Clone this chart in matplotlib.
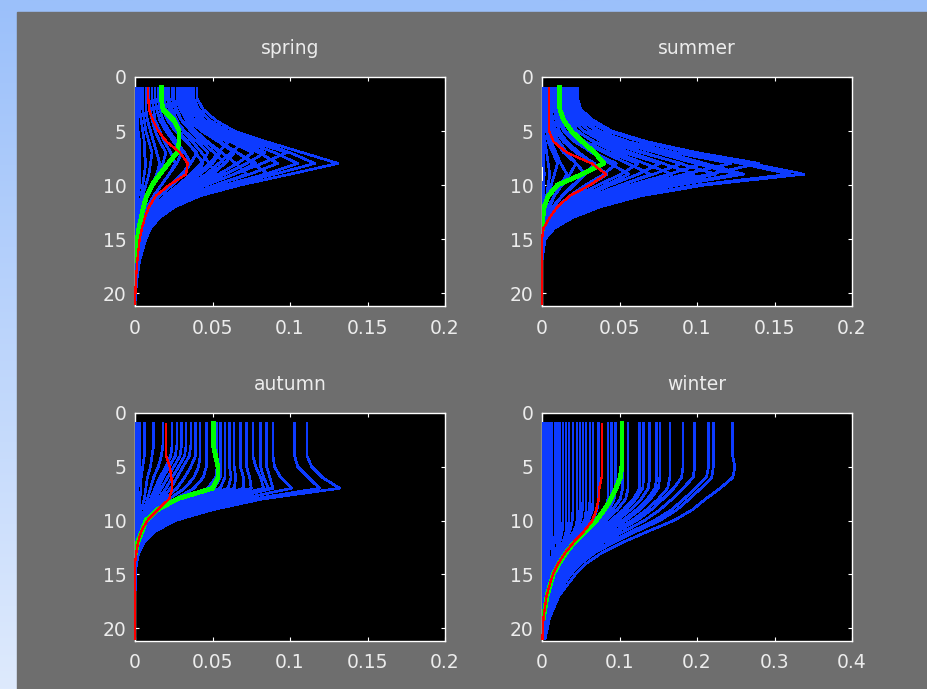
import numpy as np
import matplotlib
matplotlib.use('Agg')
import matplotlib.pyplot as plt
from matplotlib.patches import Rectangle

nan = float('nan')

# ---------------- data (profile values in units of 1e-3) ----------------
depth = [1, 2, 3, 4, 5, 6, 7, 8, 9, 10, 11, 12, 13, 14, 15, 17, 19, 21]

titles = ['spring', 'summer', 'autumn', 'winter']
yticks = [0, 5, 10, 15, 20]
xticks_std = [0, 0.05, 0.1, 0.15, 0.2]
xticklabels_std = ['0', '0.05', '0.1', '0.15', '0.2']
xticks_winter = [0, 0.1, 0.2, 0.3, 0.4]
xticklabels_winter = ['0', '0.1', '0.2', '0.3', '0.4']

spring_profiles = [
    [40, 40, 44, 52, 64, 85, 108, 131, 100, 68, 42, 26, 16, 10, 7, 3, 1, 0],
    [38, 38, 41, 48, 60, 80, 100, 116, 90, 62, 39, 24, 15, 10, 6, 3, 1, 0],
    [37, 37, 39, 45, 56, 72, 90, 105, 84, 58, 37, 23, 14, 9, 6, 3, 1, 0],
    [36, 36, 38, 44, 56, 76, 98, 82, 64, 45, 30, 19, 12, 8, 5, 2, 1, 0],
    [35, 35, 37, 42, 52, 66, 80, 92, 74, 52, 34, 21, 13, 8, 5, 2, 1, 0],
    [34, 34, 36, 41, 52, 68, 84, 72, 58, 42, 28, 18, 11, 7, 5, 2, 1, 0],
    [33, 33, 35, 38, 45, 55, 66, 76, 86, 60, 37, 22, 13, 8, 5, 2, 1, 0],
    [32, 32, 34, 38, 48, 62, 76, 66, 54, 40, 27, 17, 11, 7, 4, 2, 1, 0],
    [31, 31, 33, 38, 50, 70, 62, 54, 46, 35, 24, 15, 10, 6, 4, 2, 1, 0],
    [30, 30, 32, 36, 43, 54, 66, 78, 64, 46, 30, 19, 12, 7, 4, 2, 1, 0],
    [29, 29, 31, 35, 43, 54, 64, 58, 48, 36, 24, 15, 10, 6, 4, 2, 1, 0],
    [28, 28, 30, 33, 39, 47, 56, 65, 72, 52, 33, 20, 12, 7, 4, 2, 1, 0],
    [27, 27, 29, 34, 44, 60, 54, 48, 40, 31, 21, 14, 9, 6, 4, 2, 1, 0],
    [25, 25, 27, 30, 36, 43, 51, 58, 50, 38, 26, 16, 10, 6, 4, 2, 1, 0],
    [24, 24, 26, 30, 37, 46, 55, 50, 42, 32, 22, 14, 9, 6, 4, 2, 1, 0],
    [22, 22, 24, 27, 31, 37, 43, 48, 52, 40, 27, 17, 10, 6, 4, 2, 1, 0],
    [21, 21, 22, 26, 32, 40, 47, 43, 36, 28, 19, 12, 8, 5, 3, 2, 1, 0],
    [19, 19, 20, 23, 28, 34, 39, 44, 38, 29, 20, 13, 8, 5, 3, 2, 1, 0],
    [17, 17, 18, 21, 26, 33, 40, 36, 30, 23, 16, 10, 7, 4, 3, 1, 1, 0],
    [15, 15, 16, 18, 22, 27, 32, 36, 31, 24, 16, 10, 7, 4, 3, 1, 0, 0],
    [13, 13, 14, 16, 20, 25, 30, 27, 22, 17, 12, 8, 5, 3, 2, 1, 0, 0],
    [11, 11, 12, 13, 16, 19, 23, 26, 22, 17, 12, 8, 5, 3, 2, 1, 0, 0],
    [9, 9, 10, 11, 13, 16, 20, 18, 15, 12, 8, 5, 3, 2, 1, 1, 0, 0],
    [7, 7, 7, 8, 10, 12, 14, 16, 14, 11, 8, 5, 3, 2, 1, 1, 0, 0],
    [5, 5, 5, 6, 7, 9, 11, 10, 9, 7, 5, 3, 2, 1, 1, 0, 0, 0],
    [3, 3, 3, 4, 5, 6, 6, 7, 6, 5, 4, 3, 2, 1, 1, 0, 0, 0],
    [1.5, 1.5, 1.5, 2, 2, 3, 3, 3, 3, 3, 2, 2, 1, 1, 1, 0.5, 0, 0],
    [0.5, 0.5, 0.5, 0.5, 1, 1, 1, 1, 1, 1, 1, 1, 0.5, 0.5, 0.5, 0, 0, 0],
]
spring_mean = [17, 17, 18, 25, 28.5, 28.5, 27, 21.5, 16, 11, 7.5, 5.5, 4, 2.5, 1.5, 0.5, nan, nan]
spring_median = [8.6, 8.6, 9, 11.5, 15, 20.5, 29, 34, 33, 22, 13.5, 9, 6.5, 4.5, 3, 1.5, 0.5, 0]

summer_profiles = [
    [23, 23, 25, 33, 45, 68, 100, 135, 169, 105, 64, 38, 20, 8, 2, 0, 0, 0],
    [22, 22, 24, 30, 42, 64, 95, 128, 160, 100, 60, 35, 18, 7, 2, 0, 0, 0],
    [21, 21, 23, 29, 42, 66, 100, 140, 108, 72, 44, 26, 13, 5, 1, 0, 0, 0],
    [20, 20, 22, 27, 37, 55, 80, 105, 130, 88, 54, 31, 16, 6, 1, 0, 0, 0],
    [19, 19, 21, 26, 35, 51, 74, 99, 125, 84, 51, 29, 15, 6, 1, 0, 0, 0],
    [18, 18, 20, 25, 36, 56, 86, 122, 92, 64, 40, 23, 12, 4, 1, 0, 0, 0],
    [17, 17, 19, 23, 31, 45, 66, 89, 112, 78, 48, 27, 14, 5, 1, 0, 0, 0],
    [16, 16, 18, 22, 31, 48, 74, 104, 82, 57, 36, 21, 11, 4, 1, 0, 0, 0],
    [15, 15, 17, 20, 27, 39, 57, 78, 98, 70, 43, 25, 13, 5, 1, 0, 0, 0],
    [14, 14, 16, 19, 27, 42, 64, 90, 72, 51, 32, 19, 10, 4, 1, 0, 0, 0],
    [13, 13, 14, 17, 23, 33, 48, 66, 84, 60, 38, 22, 11, 4, 1, 0, 0, 0],
    [12, 12, 13, 16, 22, 34, 53, 76, 62, 44, 28, 16, 8, 3, 1, 0, 0, 0],
    [11, 11, 12, 14, 19, 27, 40, 55, 70, 51, 32, 19, 9, 3, 1, 0, 0, 0],
    [10, 10, 11, 13, 18, 28, 43, 62, 51, 36, 23, 13, 7, 3, 1, 0, 0, 0],
    [9, 9, 10, 12, 15, 22, 32, 44, 56, 41, 26, 15, 8, 3, 1, 0, 0, 0],
    [8, 8, 9, 10, 14, 21, 33, 48, 40, 28, 18, 10, 5, 2, 0, 0, 0, 0],
    [7, 7, 8, 9, 11, 16, 24, 33, 42, 31, 20, 11, 6, 2, 0, 0, 0, 0],
    [6, 6, 6, 7, 9, 14, 22, 34, 28, 20, 13, 7, 4, 1, 0, 0, 0, 0],
    [5, 5, 5, 6, 7, 11, 16, 22, 28, 21, 13, 8, 4, 1, 0, 0, 0, 0],
    [4, 4, 4, 5, 6, 9, 14, 22, 18, 13, 8, 5, 2, 1, 0, 0, 0, 0],
    [3, 3, 3, 3, 4, 6, 9, 12, 16, 12, 8, 4, 2, 1, 0, 0, 0, 0],
    [2, 2, 2, 2, 3, 4, 7, 10, 8, 6, 4, 2, 1, 0, 0, 0, 0, 0],
    [1, 1, 1, 1, 1, 2, 3, 4, 5, 4, 3, 2, 1, 0, 0, 0, 0, 0],
    [0.5, 0.5, 0.5, 0.5, 0.5, 1, 1, 1, 1.5, 1, 1, 0.5, 0.5, 0, 0, 0, 0, 0],
]
summer_mean = [11.4, 11.4, 11.5, 14, 19, 26, 34, 40, 26, 10, 4, 1.5, 0.6, 0.2, nan, nan, nan, nan]
summer_median = [4.3, 4.3, 4.3, 4.3, 4.5, 7.5, 16, 32, 41.5, 31, 18, 10, 5, 1, 0, 0, 0, 0]

autumn_profiles = [
    [111, 111, 111, 111, 114, 121, 132, 82, 50, 26, 13, 6, 2.5, 1, 0, 0, 0, 0],
    [103, 103, 103, 103, 105, 112, 119, 76, 46, 24, 12, 5, 2, 1, 0, 0, 0, 0],
    [89, 89, 89, 89, 90, 94, 101, 68, 42, 22, 11, 5, 2, 1, 0, 0, 0, 0],
    [85, 85, 85, 85, 85, 87, 89, 62, 38, 20, 10, 4, 2, 0.5, 0, 0, 0, 0],
    [81, 81, 81, 81, 81, 83, 86, 58, 35, 18, 9, 4, 2, 0.5, 0, 0, 0, 0],
    [76, 76, 76, 76, 78, 81, 83, 55, 33, 17, 8, 4, 1.5, 0.5, 0, 0, 0, 0],
    [72, 72, 72, 72, 72, 74, 75, 50, 30, 16, 8, 3.5, 1.5, 0.5, 0, 0, 0, 0],
    [68, 68, 68, 68, 68, 70, 70, 46, 28, 15, 7, 3, 1, 0, 0, 0, 0, 0],
    [64, 64, 64, 64, 64, 65, 64, 42, 25, 13, 6.5, 3, 1, 0, 0, 0, 0, 0],
    [61, 61, 61, 61, 61, 62, 60, 39, 23, 12, 6, 3, 1, 0, 0, 0, 0, 0],
    [58, 58, 58, 58, 58, 58, 55, 36, 21, 11, 5.5, 2.5, 1, 0, 0, 0, 0, 0],
    [55, 55, 55, 55, 55, 55, 51, 33, 19, 10, 5, 2.5, 1, 0, 0, 0, 0, 0],
    [53, 53, 53, 53, 53, 52, 47, 30, 17, 9, 5, 2, 1, 0, 0, 0, 0, 0],
    [46, 46, 46, 46, 46, 44, 38, 26, 15, 8, 4, 2, 0.5, 0, 0, 0, 0, 0],
    [42, 42, 42, 42, 41, 38, 32, 22, 13, 7, 4, 2, 0.5, 0, 0, 0, 0, 0],
    [39, 39, 39, 39, 36, 32, 27, 19, 12, 7, 3.5, 1.5, 0.5, 0, 0, 0, 0, 0],
    [36, 36, 36, 35, 31, 27, 23, 17, 11, 6, 3, 1.5, 0.5, 0, 0, 0, 0, 0],
    [33, 33, 33, 32, 28, 24, 20, 15, 10, 6, 3, 1.5, 0.5, 0, 0, 0, 0, 0],
    [30, 30, 30, 29, 25, 21, 17, 13, 9, 5, 3, 1, 0.5, 0, 0, 0, 0, 0],
    [27, 27, 27, 26, 22, 18, 15, 11, 8, 5, 3, 1, 0.5, 0, 0, 0, 0, 0],
    [24, 24, 24, 23, 20, 16, 13, 10, 7, 4, 2.5, 1, 0.5, 0, 0, 0, 0, 0],
    [18, 18, 18, 17, 15, 12, 10, 8, 6, 4, 2, 1, 0.5, 0, 0, 0, 0, 0],
    [12, 12, 12, 11, 10, 8, 7, 6, 4, 3, 2, 1, 0, 0, 0, 0, 0, 0],
    [6, 6, 6, 6, 5, 4, 4, 3, 3, 2, 1, 0.5, 0, 0, 0, 0, 0, 0],
    [3, 3, 3, 3, 3, 2.5, 2, 2, 1.5, 1, 0.5, 0.5, 0, 0, 0, 0, 0, 0],
    [1, 1, 1, 1, 1, 1, 1, 1, 1, 0.5, 0.5, 0.5, 0.5, 0.5, 0.5, 0, 0, 0],
]
autumn_mean = [50.5, 50.5, 50.5, 52, 53.5, 53.5, 50, 27, 14.5, 7, 4.5, 1.7, 0.3, nan, nan, nan, nan, nan]
autumn_median = [20, 20, 20, 20, 22.5, 23.5, 24, 22, 14.5, 8, 4, 2, 0.8, 0, 0, 0, 0, 0]

winter_profiles = [
    [246, 246, 246, 246, 249, 246, 230, 211, 194, 170, 137, 105, 77, 57, 43, 22, 10, 4],
    [221, 221, 221, 221, 221, 219, 205, 190, 174, 152, 122, 93, 68, 50, 37, 19, 9, 3],
    [215, 215, 215, 215, 215, 212, 198, 183, 167, 145, 116, 88, 64, 47, 35, 18, 8, 3],
    [197, 197, 197, 197, 197, 195, 182, 168, 152, 132, 106, 80, 58, 43, 32, 16, 7, 3],
    [182, 182, 182, 182, 182, 180, 170, 156, 141, 122, 98, 74, 54, 40, 29, 15, 7, 2],
    [165, 165, 165, 165, 165, 165, 162, 150, 135, 116, 93, 70, 51, 38, 28, 14, 6, 2],
    [152, 152, 152, 152, 152, 152, 150, 140, 126, 108, 86, 65, 47, 35, 26, 13, 6, 2],
    [148, 148, 148, 148, 148, 148, 146, 136, 122, 104, 82, 62, 45, 33, 25, 13, 6, 2],
    [139, 139, 139, 139, 139, 139, 137, 128, 114, 97, 77, 58, 42, 31, 23, 12, 5, 2],
    [131, 131, 131, 131, 131, 131, 130, 121, 108, 92, 73, 55, 40, 29, 22, 11, 5, 2],
    [126, 126, 126, 126, 126, 126, 126, 118, 105, 89, 70, 53, 38, 28, 21, 11, 5, 2],
    [111, 111, 111, 111, 111, 111, 111, 108, 97, 82, 65, 49, 35, 26, 19, 10, 4, 1.5],
    [104, 104, 104, 104, 104, 104, 104, 101, 91, 77, 61, 46, 33, 24, 18, 9, 4, 1.5],
    [95, 95, 95, 95, 95, 95, 95, 93, 87, 76, 60, 45, 33, 24, 17, 9, 4, 1.5],
    [90, 90, 90, 90, 90, 90, 90, 89, 84, 73, 58, 44, 32, 23, 17, 9, 4, 1.5],
    [85, 85, 85, 85, 85, 85, 85, 85, 83, 78, 66, 50, 37, 27, 19, 10, 4, 1.5],
    [73, 73, 73, 73, 73, 73, 73, 73, 71, 65, 54, 41, 30, 21, 16, 8, 3.5, 1],
    [66, 66, 66, 66, 66, 66, 66, 66, 65, 60, 50, 38, 28, 20, 15, 8, 3, 1],
    [62, 62, 62, 62, 62, 62, 62, 62, 61, 57, 48, 36, 27, 19, 14, 7, 3, 1],
    [57, 57, 57, 57, 57, 57, 57, 57, 57, 55, 47, 35, 26, 18, 13, 7, 3, 1],
    [53, 53, 53, 53, 53, 53, 53, 53, 52, 50, 44, 34, 25, 18, 13, 7, 3, 1],
    [49, 49, 49, 49, 49, 49, 49, 49, 49, 47, 41, 32, 24, 17, 12, 6, 3, 1],
    [45, 45, 45, 45, 45, 45, 45, 45, 45, 45, 43, 37, 28, 20, 14, 7, 3, 1],
    [40, 40, 40, 40, 40, 40, 40, 40, 40, 39, 36, 29, 22, 16, 11, 6, 2.5, 1],
    [35, 35, 35, 35, 35, 35, 35, 35, 35, 35, 33, 27, 21, 15, 10, 5, 2, 1],
    [31, 31, 31, 31, 31, 31, 31, 31, 31, 31, 31, 28, 22, 16, 11, 6, 2.5, 1],
    [27, 27, 27, 27, 27, 27, 27, 27, 27, 27, 26, 23, 18, 13, 9, 5, 2, 0.5],
    [23, 23, 23, 23, 23, 23, 23, 23, 23, 23, 23, 21, 17, 12, 8, 4, 2, 0.5],
    [20, 20, 20, 20, 20, 20, 20, 20, 20, 20, 20, 20, 19, 15, 11, 6, 2, 0.5],
    [17, 17, 17, 17, 17, 17, 17, 17, 17, 17, 17, 16, 14, 10, 7, 4, 1.5, 0.5],
    [13, 13, 13, 13, 13, 13, 13, 13, 13, 13, 13, 13, 13, 12, 9, 5, 2, 0.5],
    [10, 10, 10, 10, 10, 10, 10, 10, 10, 10, 10, 10, 9, 8, 6, 3, 1, 0.5],
    [6, 6, 6, 6, 6, 6, 6, 6, 6, 6, 6, 6, 6, 6, 5, 3, 1, 0.3],
    [3, 3, 3, 3, 3, 3, 3, 3, 3, 3, 3, 3, 3, 3, 3, 2, 1, 0.3],
    [1, 1, 1, 1, 1, 1, 1, 1, 1, 1, 1, 1, 1, 1, 1, 1, 0.5, 0.2],
]
winter_mean = [103, 103, 103, 103, 103, 101, 95.5, 89, 80.5, 70, 56, 42, 31, 22, 14.5, 6.5, 2, nan]
winter_median = [77, 77, 77, 77, 77, 77, 74, 73, 70, 65, 54, 41, 30, 21, 14, 6, 2, 0.5]

# ---------------- figure ----------------
W, H = 927, 689
fig = plt.figure(figsize=(W / 100, H / 100), dpi=100)

# background: light-blue gradient frame + gray panel
bg = fig.add_axes([0, 0, 1, 1], zorder=-10)
top_c = np.array([155, 192, 250]) / 255.0
bot_c = np.array([222, 234, 253]) / 255.0
t = np.linspace(0, 1, 256)[:, None]
grad = (top_c[None, :] * (1 - t) + bot_c[None, :] * t)[:, None, :]
bg.imshow(grad, extent=[0, 1, 0, 1], aspect='auto', origin='upper')
bg.add_patch(Rectangle((17 / W, 0), 1, 1 - 12 / H, color='#6e6e6e', zorder=2))
bg.set_xlim(0, 1)
bg.set_ylim(0, 1)
bg.axis('off')

TXT = '#ececec'
BLUE = '#0d3bff'

def px_rect(l, t_, r, b):
    return [l / W, 1 - b / H, (r - l) / W, (b - t_) / H]

rects = [px_rect(135, 77, 445, 306), px_rect(542, 77, 852, 306),
         px_rect(135, 413, 445, 641), px_rect(542, 413, 852, 641)]
profiles = [spring_profiles, summer_profiles, autumn_profiles, winter_profiles]
means = [spring_mean, summer_mean, autumn_mean, winter_mean]
medians = [spring_median, summer_median, autumn_median, winter_median]

for i in range(4):
    ax = fig.add_axes(rects[i])
    ax.set_facecolor('black')
    for s in ax.spines.values():
        s.set_color('white')
        s.set_linewidth(1.0)
        s.set_zorder(1)
    for prof in profiles[i]:
        ax.plot(np.array(prof) / 1000.0, depth, color=BLUE, lw=1.15,
                antialiased=False, zorder=3)
    ax.plot(np.array(means[i]) / 1000.0, depth, color='#00ff00', lw=2.6,
            antialiased=False, zorder=4)
    ax.plot(np.array(medians[i]) / 1000.0, depth, color='#ff0000', lw=0.9,
            antialiased=False, zorder=5, clip_on=False)
    if i == 3:
        ax.set_xlim(0, 0.4)
        ax.set_xticks(xticks_winter)
        ax.set_xticklabels(xticklabels_winter)
    else:
        ax.set_xlim(0, 0.2)
        ax.set_xticks(xticks_std)
        ax.set_xticklabels(xticklabels_std)
    ax.set_ylim(21.2, 0)
    ax.set_yticks(yticks)
    ax.set_yticklabels([str(v) for v in yticks])
    ax.tick_params(axis='both', direction='in', length=3, width=0.8,
                   color='white', labelcolor=TXT, labelsize=13.5,
                   top=True, right=True)
    ax.tick_params(axis='x', pad=9)
    ax.tick_params(axis='y', pad=6)
    ax.set_title(titles[i], color=TXT, fontsize=13.5, pad=16.5)

fig.savefig('out.png', dpi=100, facecolor=fig.get_facecolor())
